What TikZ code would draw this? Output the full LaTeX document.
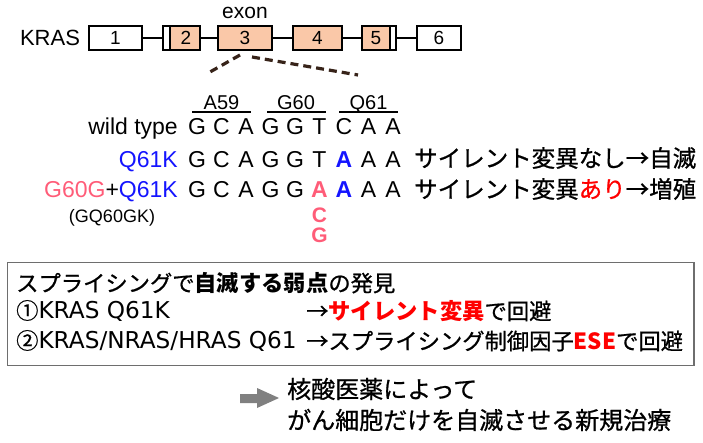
\documentclass[tikz,border=0pt]{standalone}
\usepackage{fontspec}
\setmainfont{Liberation Sans}
\newfontfamily\jp{Noto Sans CJK JP}[UprightFeatures={FakeBold=0.8}]
\newfontfamily\latbox{DejaVu Sans}
\newcommand\latsize{\latbox\fontsize{23.2}{23.2}\selectfont}
\definecolor{peach}{RGB}{250,200,168}
\definecolor{qblue}{RGB}{20,20,255}
\definecolor{gpink}{RGB}{255,92,120}
\definecolor{hred}{RGB}{255,0,0}
\definecolor{dashbrown}{RGB}{55,35,25}
\definecolor{boxgray}{RGB}{110,110,110}
\definecolor{arrowgray}{RGB}{128,128,128}
\tikzset{
  exonbox/.style={draw=black, line width=2.5pt, minimum height=24pt, inner sep=0pt, font=\fontsize{19}{19}\selectfont},
  intron/.style={line width=2pt},
  numtxt/.style={inner sep=0pt, font=\fontsize{19}{19}\selectfont},
  seqtxt/.style={anchor=base, inner sep=0pt, font=\fontsize{23}{23}\selectfont},
  codtxt/.style={anchor=base, inner sep=0pt, font=\fontsize{20}{20}\selectfont},
  codbar/.style={line width=2pt},
  jptxt/.style={anchor=west, inner sep=0pt, font=\jp\fontsize{23.5}{23.5}\selectfont},
  boxtxt/.style={anchor=west, inner sep=0pt, font=\jp\fontsize{22.3}{22.3}\selectfont},
  bottxt/.style={anchor=west, inner sep=0pt, font=\jp\fontsize{24}{24}\selectfont},
  dashline/.style={draw=dashbrown, line width=3.2pt, dash pattern=on 8pt off 5pt},
}
\begin{document}
\begin{tikzpicture}[x=1pt,y=-1pt]
\useasboundingbox (0,0) rectangle (703,443);
% exon row
\node[inner sep=0pt, font=\fontsize{22}{22}\selectfont] (kras) at (50,38) {KRAS};
\node[inner sep=0pt, font=\fontsize{21}{21}\selectfont] (exon) at (245,13) {exon};
\fill[peach] (171,26) rectangle (200,50);
\fill[peach] (362,26) rectangle (389,50);
\node[exonbox, minimum width=53pt] (e1) at (115.5,38) {1};
\node[exonbox, minimum width=37pt] (e2) at (181.5,38) {};
\node[numtxt] at (186,38) {2};
\draw[line width=2pt] (169.5,26) -- (169.5,50);
\node[exonbox, fill=peach, minimum width=54pt] (e3) at (245,38) {3};
\node[exonbox, fill=peach, minimum width=49pt] (e4) at (317.5,38) {4};
\node[exonbox, minimum width=34pt] (e5) at (379,38) {};
\node[numtxt] at (376,38) {5};
\draw[line width=2pt] (390,26) -- (390,50);
\node[exonbox, minimum width=44pt] (e6) at (439,38) {6};
\draw[intron] (e1) -- (e2);
\draw[intron] (e2) -- (e3);
\draw[intron] (e3) -- (e4);
\draw[intron] (e4) -- (e5);
\draw[intron] (e5) -- (e6);
% zoom lines
\coordinate (d1) at (240,55);
\coordinate (d2) at (210,72);
\coordinate (d3) at (252,57);
\coordinate (d4) at (358,75);
\draw[dashline] (d1) -- (d2);
\draw[dashline] (d3) -- (d4);
% codon labels
\node[codtxt] (a59) at (221.5,109.5) {A59};
\node[codtxt] (g60) at (296,109.5) {G60};
\node[codtxt] (q61) at (368.5,109.5) {Q61};
\draw[codbar] (192,112) -- (251,112);
\draw[codbar] (267,112) -- (326,112);
\draw[codbar] (339,112) -- (398,112);
% rows
\node[seqtxt, anchor=base east] (wt) at (178,135) {wild type};
\foreach \l [count=\i from 0] in {G,C,A,G,G,T,C,A,A}
  \node[seqtxt] (w\i) at (197+24.5*\i,135) {\l};
\node[seqtxt, anchor=base east] (qk) at (178,168) {\color{qblue}Q61K};
\foreach \l [count=\i from 0] in {G,C,A,G,G,T,{\bfseries\color{qblue}A},A,A}
  \node[seqtxt] (q\i) at (197+24.5*\i,168) {\l};
\node[seqtxt, anchor=base east] (gk) at (178,198) {\textcolor{gpink}{G60G}+\textcolor{qblue}{Q61K}};
\foreach \l [count=\i from 0] in {G,C,A,G,G,{\bfseries\color{gpink}A},{\bfseries\color{qblue}A},A,A}
  \node[seqtxt] (g\i) at (197+24.5*\i,198) {\l};
\node[anchor=base, inner sep=0pt, font=\fontsize{18}{18}\selectfont] (gqk) at (112,223) {(GQ60GK)};
\node[anchor=base, inner sep=0pt, font=\bfseries\fontsize{21}{21}\selectfont, text=gpink] (altc) at (319.5,223) {C};
\node[anchor=base, inner sep=0pt, font=\bfseries\fontsize{21}{21}\selectfont, text=gpink] (altg) at (319.5,243) {G};
\node[jptxt] (r1) at (414,158) {サイレント変異なし→自滅};
\node[jptxt] (r2) at (414,189) {サイレント変異\textcolor{hred}{あり}→増殖};
% summary box
\node[draw=boxgray, line width=1.2pt, minimum width=686.5pt, minimum height=103pt, inner sep=0pt] (sbox) at (350.75,314) {};
\node[boxtxt] (s1) at (16,283) {スプライシングで\textbf{自滅する弱点}の発見};
\node[boxtxt] (s2) at (16,311) {①{\latsize KRAS Q61K}};
\node[boxtxt] (s2r) at (306,311) {→\textbf{\color{hred}サイレント変異}で回避};
\node[boxtxt] (s3) at (16,341) {②{\latsize KRAS/NRAS/HRAS Q61}};
\node[boxtxt] (s3r) at (306,341) {→スプライシング制御因子\textbf{\color{hred}ESE}で回避};
% bottom
\fill[arrowgray] (240,394) -- (257,394) -- (257,388) -- (279,398) -- (257,408) -- (257,403) -- (240,403) -- cycle;
\node[bottxt] (b1) at (287,389) {核酸医薬によって};
\node[bottxt] (b2) at (287,420) {がん細胞だけを自滅させる新規治療};
\end{tikzpicture}
\end{document}
